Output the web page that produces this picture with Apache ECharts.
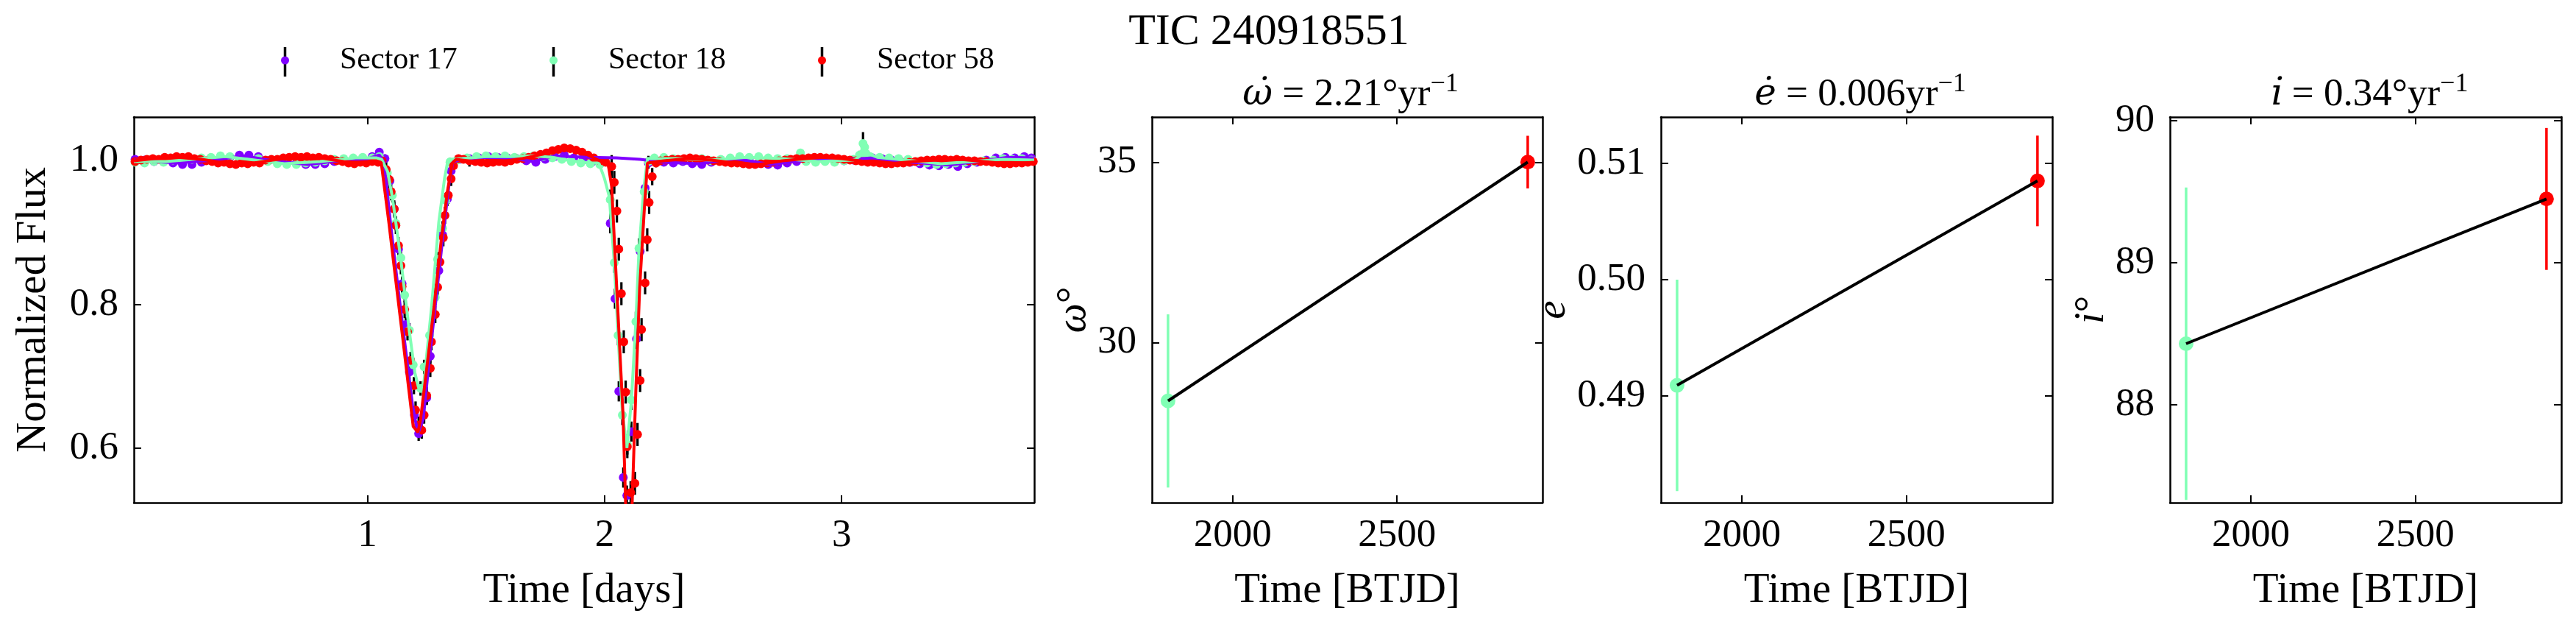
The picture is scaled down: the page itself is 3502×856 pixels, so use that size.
<!DOCTYPE html>
<html lang="en">
<head>
<meta charset="UTF-8">
<title>TIC 240918551</title>
<style>
    html, body { margin: 0; padding: 0; background: #fff; }
    #main { width: 3502px; height: 856px; }
</style>
</head>
<body>
<div id="main"></div>
<script src="https://cdn.jsdelivr.net/npm/echarts@6/dist/echarts.min.js"></script>
<script>
    // folded light curve points: [phase time (days), normalized flux, error]
    const sector17 = [
        [0.02,1.002,0.004],[0.06,1.001,0.004],[0.10,0.999,0.004],[0.14,1.000,0.004],[0.18,0.997,0.004],[0.22,0.995,0.004],
        [0.26,0.995,0.004],[0.30,0.998,0.004],[0.34,1.001,0.004],[0.38,1.003,0.004],[0.42,1.005,0.004],[0.46,1.008,0.004],
        [0.50,1.008,0.004],[0.54,1.006,0.004],[0.58,1.000,0.004],[0.62,0.999,0.004],[0.66,0.998,0.004],[0.70,0.997,0.004],
        [0.74,0.995,0.004],[0.78,0.995,0.004],[0.82,0.996,0.004],[0.86,0.999,0.004],[0.90,1.001,0.004],[0.94,1.002,0.004],
        [0.98,1.003,0.004],[1.02,1.006,0.004],[1.05,1.012,0.004],[1.074,1.003,0.006],
        [1.095,0.972,0.010],[1.113,0.933,0.010],[1.131,0.877,0.010],[1.146,0.829,0.010],[1.162,0.772,0.010],[1.177,0.706,0.010],
        [1.198,0.646,0.010],[1.216,0.620,0.010],[1.250,0.670,0.010],[1.265,0.728,0.010],[1.301,0.847,0.010],[1.317,0.897,0.010],
        [1.337,0.947,0.010],[1.353,0.986,0.008],
        [1.39,1.002,0.004],[1.43,1.003,0.004],[1.47,1.004,0.004],[1.51,1.006,0.004],[1.55,1.005,0.004],[1.59,1.004,0.004],
        [1.63,1.003,0.004],[1.67,1.000,0.004],[1.71,0.998,0.004],[1.75,1.002,0.004],[1.79,1.006,0.004],[1.83,1.008,0.004],
        [1.87,1.004,0.004],[1.91,1.001,0.004],[1.95,0.999,0.004],[1.99,0.998,0.004],
        [2.024,0.913,0.014],[2.044,0.808,0.014],[2.060,0.679,0.014],[2.079,0.559,0.014],[2.094,0.534,0.014],[2.113,0.623,0.014],
        [2.135,0.752,0.014],[2.150,0.874,0.014],[2.171,0.962,0.012],[2.185,0.997,0.008],
        [2.21,1.000,0.004],[2.25,0.998,0.004],[2.29,0.997,0.004],[2.33,0.999,0.004],[2.37,0.996,0.004],[2.41,0.995,0.004],
        [2.45,0.998,0.004],[2.49,1.000,0.004],[2.53,1.002,0.004],[2.57,1.004,0.004],[2.61,1.001,0.004],[2.65,0.997,0.004],
        [2.69,0.995,0.004],[2.73,0.994,0.004],[2.77,0.997,0.004],[2.81,0.999,0.004],[2.85,1.001,0.004],[2.89,1.002,0.004],
        [2.93,1.003,0.004],[2.97,1.002,0.004],[3.01,1.000,0.004],[3.05,1.001,0.004],[3.09,1.003,0.004],[3.13,1.004,0.004],
        [3.17,1.003,0.004],[3.21,1.001,0.004],[3.25,0.999,0.004],[3.29,0.998,0.004],[3.33,0.996,0.004],[3.37,0.994,0.004],
        [3.41,0.993,0.004],[3.45,0.995,0.004],[3.49,0.992,0.004],[3.53,0.996,0.004],[3.57,0.998,0.004],[3.61,1.001,0.004],
        [3.65,1.004,0.004],[3.69,1.005,0.004],[3.73,1.004,0.004],[3.77,1.006,0.004],[3.80,1.004,0.004]
    ];
    const sector18 = [
        [0.02,0.998,0.004],[0.06,0.997,0.004],[0.10,0.999,0.004],[0.14,0.998,0.004],[0.18,1.001,0.004],[0.22,1.003,0.004],
        [0.26,1.002,0.004],[0.30,1.004,0.004],[0.34,1.005,0.004],[0.38,1.007,0.004],[0.42,1.006,0.004],[0.46,1.002,0.004],
        [0.50,1.001,0.004],[0.54,1.003,0.004],[0.58,0.999,0.004],[0.62,0.996,0.004],[0.66,0.995,0.004],[0.70,0.995,0.004],
        [0.74,0.997,0.004],[0.78,0.998,0.004],[0.82,1.000,0.004],[0.86,1.002,0.004],[0.90,1.003,0.004],[0.94,1.004,0.004],
        [0.98,1.005,0.004],[1.02,1.004,0.004],[1.05,1.006,0.004],
        [1.084,0.983,0.010],[1.105,0.952,0.010],[1.120,0.913,0.010],[1.141,0.865,0.010],[1.157,0.813,0.010],[1.177,0.764,0.010],
        [1.193,0.716,0.010],[1.224,0.683,0.010],[1.239,0.713,0.010],[1.262,0.757,0.010],[1.286,0.810,0.010],[1.296,0.863,0.010],
        [1.317,0.906,0.010],[1.330,0.945,0.010],[1.348,0.998,0.006],
        [1.38,1.001,0.004],[1.42,1.004,0.004],[1.46,1.006,0.004],[1.50,1.007,0.004],[1.54,1.006,0.004],[1.58,1.007,0.004],
        [1.62,1.005,0.004],[1.66,1.006,0.004],[1.70,1.007,0.004],[1.74,1.006,0.004],[1.78,1.004,0.004],[1.82,1.002,0.004],
        [1.86,0.999,0.004],[1.90,0.997,0.004],[1.94,0.996,0.004],[1.98,0.995,0.004],
        [2.024,0.946,0.014],[2.041,0.858,0.014],[2.057,0.757,0.014],[2.075,0.646,0.014],[2.096,0.605,0.014],[2.113,0.667,0.014],
        [2.132,0.776,0.014],[2.145,0.878,0.014],[2.167,0.957,0.012],[2.185,0.999,0.008],
        [2.21,1.004,0.004],[2.25,1.005,0.004],[2.29,1.003,0.004],[2.33,1.001,0.004],[2.37,1.002,0.004],[2.41,1.003,0.004],
        [2.45,1.000,0.004],[2.49,1.002,0.004],[2.53,1.004,0.004],[2.57,1.006,0.004],[2.61,1.005,0.004],[2.65,1.006,0.004],
        [2.69,1.004,0.004],[2.73,1.003,0.004],[2.77,1.003,0.004],[2.826,1.011,0.004],[2.85,0.999,0.004],[2.89,0.998,0.004],
        [2.93,0.999,0.004],[2.97,0.998,0.004],[3.01,1.000,0.004],[3.05,1.002,0.004],[3.075,1.008,0.006],[3.090,1.024,0.016],
        [3.097,1.019,0.006],[3.103,1.010,0.005],[3.12,1.006,0.004],[3.16,1.005,0.004],[3.20,1.004,0.004],[3.24,1.003,0.004],
        [3.28,1.002,0.004],[3.32,0.999,0.004],[3.36,0.997,0.004],[3.40,0.995,0.004],[3.44,0.996,0.004],[3.48,0.997,0.004],
        [3.52,0.998,0.004],[3.56,0.999,0.004],[3.60,1.000,0.004],[3.64,1.001,0.004],[3.68,1.003,0.004],[3.72,1.002,0.004],
        [3.76,1.003,0.004],[3.80,1.001,0.004]
    ];
    const sector58 = [
        [0.020,0.999,0.004],[0.045,1.001,0.004],[0.070,1.002,0.004],[0.095,1.003,0.004],[0.120,1.002,0.004],[0.145,1.005,0.004],
        [0.170,1.004,0.004],[0.195,1.006,0.004],[0.220,1.005,0.004],[0.245,1.006,0.004],[0.270,1.003,0.004],[0.295,1.002,0.004],
        [0.320,1.000,0.004],[0.345,0.999,0.004],[0.370,0.997,0.004],[0.395,0.998,0.004],[0.420,0.996,0.004],[0.445,0.995,0.004],
        [0.470,0.997,0.004],[0.495,0.996,0.004],[0.520,0.998,0.004],[0.545,0.997,0.004],[0.570,1.001,0.004],[0.595,1.002,0.004],
        [0.620,1.002,0.004],[0.645,1.004,0.004],[0.670,1.005,0.004],[0.695,1.006,0.004],[0.720,1.005,0.004],[0.745,1.006,0.004],
        [0.770,1.004,0.004],[0.795,1.005,0.004],[0.820,1.003,0.004],[0.845,1.002,0.004],[0.870,1.000,0.004],[0.895,0.999,0.004],
        [0.920,0.997,0.004],[0.945,0.996,0.004],[0.970,0.998,0.004],[0.995,0.997,0.004],[1.020,0.999,0.004],[1.045,0.998,0.004],
        [1.062,1.000,0.005],
        [1.079,0.988,0.012],[1.092,0.974,0.012],[1.100,0.957,0.012],[1.113,0.933,0.012],[1.120,0.910,0.012],[1.131,0.882,0.012],
        [1.141,0.854,0.012],[1.146,0.825,0.012],[1.157,0.793,0.012],[1.169,0.762,0.012],[1.182,0.722,0.012],[1.196,0.687,0.012],
        [1.203,0.653,0.012],[1.216,0.632,0.012],[1.229,0.625,0.012],[1.239,0.646,0.012],[1.250,0.673,0.012],[1.265,0.711,0.012],
        [1.270,0.748,0.012],[1.286,0.786,0.012],[1.296,0.824,0.012],[1.306,0.859,0.012],[1.320,0.893,0.012],[1.327,0.924,0.012],
        [1.341,0.952,0.012],[1.353,0.975,0.010],[1.363,0.993,0.008],[1.384,1.003,0.005],
        [1.405,1.002,0.004],[1.430,1.000,0.008],[1.455,0.999,0.004],[1.480,0.998,0.004],[1.505,0.997,0.004],[1.530,0.998,0.004],
        [1.555,0.999,0.004],[1.580,0.998,0.004],[1.605,1.000,0.004],[1.630,1.002,0.004],[1.655,1.003,0.004],[1.680,1.005,0.004],
        [1.705,1.007,0.004],[1.730,1.009,0.004],[1.755,1.011,0.004],[1.780,1.014,0.004],[1.805,1.016,0.004],[1.830,1.018,0.004],
        [1.855,1.017,0.004],[1.880,1.015,0.004],[1.905,1.012,0.004],[1.930,1.008,0.004],[1.955,1.004,0.004],[1.980,1.000,0.004],
        [2.005,0.998,0.005],
        [2.030,0.992,0.016],[2.041,0.970,0.016],[2.052,0.930,0.016],[2.060,0.877,0.016],[2.071,0.815,0.016],[2.081,0.748,0.016],
        [2.089,0.678,0.016],[2.096,0.602,0.016],[2.110,0.538,0.016],[2.128,0.551,0.016],[2.139,0.619,0.016],[2.150,0.694,0.016],
        [2.156,0.765,0.016],[2.171,0.830,0.016],[2.180,0.890,0.016],[2.188,0.942,0.016],[2.201,0.978,0.012],[2.217,0.997,0.006],
        [2.235,1.000,0.004],[2.260,1.001,0.004],[2.285,1.002,0.004],[2.310,1.002,0.004],[2.335,1.003,0.004],[2.360,1.004,0.004],
        [2.385,1.003,0.004],[2.410,1.002,0.004],[2.435,1.001,0.004],[2.460,1.000,0.004],[2.485,0.999,0.004],[2.510,0.998,0.004],
        [2.535,0.997,0.004],[2.560,0.997,0.004],[2.585,0.996,0.004],[2.610,0.995,0.004],[2.635,0.995,0.004],[2.660,0.996,0.004],
        [2.685,0.997,0.004],[2.710,0.998,0.004],[2.735,1.000,0.004],[2.760,1.001,0.004],[2.785,1.002,0.004],[2.810,1.003,0.004],
        [2.835,1.003,0.004],[2.860,1.004,0.004],[2.885,1.005,0.004],[2.910,1.005,0.004],[2.935,1.004,0.004],[2.960,1.004,0.004],
        [2.985,1.003,0.004],[3.010,1.002,0.004],[3.035,1.001,0.004],[3.060,1.000,0.004],[3.085,0.999,0.004],[3.110,0.998,0.004],
        [3.135,0.998,0.004],[3.160,0.997,0.004],[3.185,0.996,0.004],[3.210,0.996,0.004],[3.235,0.997,0.004],[3.260,0.997,0.004],
        [3.285,0.998,0.004],[3.310,0.999,0.004],[3.335,1.000,0.004],[3.360,1.001,0.004],[3.385,1.001,0.004],[3.410,1.002,0.004],
        [3.435,1.002,0.004],[3.460,1.001,0.004],[3.485,1.002,0.004],[3.510,1.001,0.004],[3.535,1.000,0.004],[3.560,1.000,0.004],
        [3.585,0.999,0.004],[3.610,0.999,0.004],[3.635,0.998,0.004],[3.660,0.997,0.004],[3.685,0.996,0.004],[3.710,0.996,0.004],
        [3.735,0.997,0.004],[3.760,0.997,0.004],[3.785,0.998,0.004],[3.808,0.999,0.004]
    ];

    // model curves: [phase time (days), flux]
    const model17 = [
        [0.015,1.001],[0.20,0.997],[0.35,1.001],[0.48,1.007],[0.60,1.000],[0.75,0.995],[0.90,1.001],[1.00,1.003],[1.050,1.008],
        [1.070,0.998],[1.100,0.905],[1.130,0.820],[1.160,0.740],[1.190,0.660],[1.213,0.620],[1.235,0.640],[1.260,0.720],
        [1.290,0.810],[1.320,0.900],[1.345,0.970],[1.360,0.998],[1.40,1.003],[1.50,1.005],[1.60,1.004],[1.70,0.999],[1.79,1.007],
        [1.85,1.006],[1.93,1.005],[2.05,1.004],[2.15,1.002],[2.25,0.998],[2.40,0.996],[2.55,1.003],[2.70,0.995],[2.85,1.001],
        [3.00,1.001],[3.13,1.004],[3.30,0.998],[3.45,0.994],[3.60,1.000],[3.70,1.005],[3.812,1.004]
    ];
    const model18 = [
        [0.015,0.999],[0.15,0.999],[0.30,1.003],[0.40,1.006],[0.50,1.002],[0.65,0.996],[0.80,0.999],[0.95,1.004],[1.040,1.004],
        [1.060,1.002],[1.085,0.985],[1.105,0.950],[1.141,0.862],[1.177,0.762],[1.200,0.705],[1.215,0.685],[1.228,0.684],
        [1.239,0.694],[1.270,0.795],[1.301,0.915],[1.325,0.975],[1.340,1.002],[1.40,1.003],[1.50,1.006],[1.60,1.006],[1.70,1.007],
        [1.78,1.005],[1.86,1.000],[1.94,0.997],[1.976,0.997],[2.000,0.975],[2.020,0.950],[2.041,0.858],[2.057,0.757],[2.075,0.650],
        [2.094,0.600],[2.113,0.665],[2.132,0.776],[2.145,0.875],[2.165,0.960],[2.181,1.003],[2.30,1.003],[2.45,1.001],[2.60,1.005],
        [2.75,1.003],[2.90,0.999],[3.05,1.001],[3.075,1.006],[3.090,1.020],[3.105,1.011],[3.15,1.005],[3.30,1.000],[3.42,0.996],
        [3.55,0.999],[3.68,1.002],[3.812,1.001]
    ];
    const model58 = [
        [0.015,1.000],[0.10,1.003],[0.20,1.005],[0.30,1.002],[0.40,0.997],[0.50,0.996],[0.60,1.001],[0.70,1.005],[0.80,1.004],
        [0.90,0.999],[1.00,0.997],[1.058,0.998],[1.090,0.915],[1.120,0.832],[1.150,0.750],[1.175,0.680],[1.193,0.630],
        [1.213,0.622],[1.224,0.640],[1.250,0.711],[1.281,0.797],[1.312,0.892],[1.337,0.957],[1.358,0.997],[1.374,1.002],
        [1.45,0.999],[1.55,0.998],[1.65,1.003],[1.75,1.010],[1.83,1.017],[1.88,1.015],[1.93,1.008],[1.98,1.000],[2.016,0.994],
        [2.030,0.964],[2.046,0.858],[2.062,0.752],[2.078,0.646],[2.089,0.520],[2.116,0.520],[2.132,0.681],[2.148,0.823],
        [2.167,0.929],[2.181,0.997],[2.25,1.000],[2.35,1.003],[2.45,1.001],[2.55,0.997],[2.65,0.995],[2.75,1.000],[2.85,1.003],
        [2.92,1.005],[3.00,1.003],[3.10,0.999],[3.20,0.996],[3.30,0.999],[3.40,1.001],[3.50,1.002],[3.60,0.999],[3.70,0.996],
        [3.812,0.998]
    ];

    // orbital parameters per epoch
    const fitTime = [1803, 2898];
    const omegaVal = [28.38, 35.0];
    const omegaErr = [2.4, 0.73];
    const eccVal = [0.4909, 0.5085];
    const eccErr = [0.0091, 0.0039];
    const incVal = [88.43, 89.45];
    const incErr = [1.1, 0.5];

    // tick labels
    const phaseTicks = [1, 2, 3];
    const fluxTicks = [0.6, 0.8, 1.0];
    const btjdTicks = [2000, 2500];
    const omegaTicks = [30, 35];
    const eccTicks = [0.49, 0.50, 0.51];
    const incTicks = [88, 89, 90];

    const sectorNames = ['Sector 17', 'Sector 18', 'Sector 58'];
    const c17 = '#8000ff', c18 = '#80ffb4', c58 = '#ff0000';
    const fitColors = [c18, c58];
    const FONT = "'Liberation Serif', 'DejaVu Serif', serif";
    const MATH = "'DejaVu Serif', serif";

    const myChart = echarts.init(document.getElementById('main'));

    // grids: left light curve + three parameter panels
    const grids = [
        {left: 182, top: 159, width: 1224, height: 524},
        {left: 1566, top: 159, width: 531, height: 524},
        {left: 2258, top: 159, width: 532, height: 524},
        {left: 2950, top: 159, width: 532, height: 524}
    ];

    const lineStyle = {color: '#000', width: 2.5};
    const tickStyle = {color: '#000', width: 2};

    function xAxes(g, min, max, ticks, fmt, name) {
        const base = {
            gridIndex: g, type: 'value', min: min, max: max,
            splitLine: {show: false},
            axisLine: {show: true, onZero: false, lineStyle: lineStyle}
        };
        return [
            Object.assign({}, base, {
                position: 'bottom',
                axisTick: {show: true, inside: true, length: 10, customValues: ticks, lineStyle: tickStyle},
                axisLabel: {customValues: ticks, formatter: fmt, margin: 19, fontSize: 53, color: '#000', fontFamily: FONT},
                name: name, nameLocation: 'middle', nameGap: 92,
                nameTextStyle: {fontSize: 57, color: '#000', fontFamily: FONT}
            }),
            Object.assign({}, base, {
                position: 'top',
                axisTick: {show: true, inside: true, length: 10, customValues: ticks, lineStyle: tickStyle},
                axisLabel: {show: false}
            })
        ];
    }

    function yAxes(g, min, max, ticks, fmt, name, gap) {
        const base = {
            gridIndex: g, type: 'value', min: min, max: max,
            splitLine: {show: false},
            axisLine: {show: true, onZero: false, lineStyle: lineStyle}
        };
        return [
            Object.assign({}, base, {
                position: 'left',
                axisTick: {show: true, inside: true, length: 10, customValues: ticks, lineStyle: tickStyle},
                axisLabel: {customValues: ticks, formatter: fmt, margin: 21, fontSize: 53, color: '#000', fontFamily: FONT},
                name: name, nameLocation: 'middle', nameGap: gap, nameRotate: 90,
                nameTextStyle: {
                    fontSize: 57, color: '#000', fontFamily: FONT,
                    rich: {i: {fontSize: 57, fontStyle: 'italic', fontFamily: FONT, color: '#000'}}
                }
            }),
            Object.assign({}, base, {
                position: 'right',
                axisTick: {show: true, inside: true, length: 10, customValues: ticks, lineStyle: tickStyle},
                axisLabel: {show: false}
            })
        ];
    }

    const xAxis = [].concat(
        xAxes(0, 0.015, 3.812, phaseTicks, v => String(v), 'Time [days]'),
        xAxes(1, 1754, 2943, btjdTicks, v => String(v), 'Time [BTJD]'),
        xAxes(2, 1754, 2943, btjdTicks, v => String(v), 'Time [BTJD]'),
        xAxes(3, 1754, 2943, btjdTicks, v => String(v), 'Time [BTJD]')
    );
    const yAxis = [].concat(
        yAxes(0, 0.524, 1.061, fluxTicks, v => v.toFixed(1), 'Normalized Flux', 107),
        yAxes(1, 25.56, 36.25, omegaTicks, v => String(v), '{i|ω}°', 64),
        yAxes(2, 0.4808, 0.5140, eccTicks, v => v.toFixed(2), '{i|e}', 104),
        yAxes(3, 87.31, 90.027, incTicks, v => String(v), '{i|i}°', 70)
    );

    // vertical error bars drawn through the axes' scales
    function errBars(colorOf, width) {
        return function (params, api) {
            const x = api.value(0), y = api.value(1), e = api.value(2);
            const p1 = api.coord([x, y - e]);
            const p2 = api.coord([x, y + e]);
            return {
                type: 'line',
                shape: {x1: p1[0], y1: p1[1], x2: p2[0], y2: p2[1]},
                style: {stroke: colorOf(params.dataIndex), lineWidth: width}
            };
        };
    }

    const series = [];
    const lcSets = [[sector17, model17, c17], [sector18, model18, c18], [sector58, model58, c58]];
    lcSets.forEach(([pts, model, color], i) => {
        series.push({
            type: 'custom', xAxisIndex: 0, yAxisIndex: 0, silent: true, clip: true,
            renderItem: errBars(() => '#000', 3.2),
            encode: {x: 0, y: 1},
            data: pts
        });
        series.push({
            name: sectorNames[i], type: 'scatter', xAxisIndex: 0, yAxisIndex: 0,
            symbol: 'circle', symbolSize: 12, silent: true,
            itemStyle: {color: color, opacity: 1},
            data: pts.map(d => [d[0], d[1]])
        });
        series.push({
            type: 'line', xAxisIndex: 0, yAxisIndex: 0, showSymbol: false, silent: true, clip: true,
            lineStyle: {color: color, width: 4},
            data: model
        });
    });

    const fitSets = [[omegaVal, omegaErr], [eccVal, eccErr], [incVal, incErr]];
    fitSets.forEach(([vals, errs], k) => {
        const ax = 2 * (k + 1);
        const pts = fitTime.map((t, j) => [t, vals[j], errs[j]]);
        series.push({
            type: 'line', xAxisIndex: ax, yAxisIndex: ax, showSymbol: false, silent: true,
            lineStyle: {color: '#000', width: 4},
            data: pts.map(d => [d[0], d[1]])
        });
        series.push({
            type: 'custom', xAxisIndex: ax, yAxisIndex: ax, silent: true,
            renderItem: errBars(j => fitColors[j], 3.5),
            encode: {x: 0, y: 1},
            data: pts
        });
        series.push({
            type: 'scatter', xAxisIndex: ax, yAxisIndex: ax, symbolSize: 20, silent: true,
            itemStyle: {color: p => fitColors[p.dataIndex], opacity: 1},
            data: pts.map(d => [d[0], d[1]])
        });
    });

    const subTitle = (text, x) => ({
        text: text, left: x, top: 92, textAlign: 'center',
        textStyle: {
            fontFamily: FONT, fontSize: 53, fontWeight: 'normal', color: '#000', lineHeight: 64,
            rich: {
                v: {fontFamily: MATH, fontSize: 50, fontStyle: 'italic', color: '#000', lineHeight: 64},
                s: {fontFamily: FONT, fontSize: 36, color: '#000', lineHeight: 32, verticalAlign: 'top'}
            }
        }
    });

    const legendX = [382, 747, 1112];

    const option = {
        animation: false,
        backgroundColor: '#fff',
        title: [
            {
                text: 'TIC 240918551', left: 1720, top: 9, textAlign: 'center',
                textStyle: {fontFamily: FONT, fontSize: 60, fontWeight: 'normal', color: '#000'}
            },
            subTitle('{v|ω\u0307} = 2.21°yr{s|−1}', 1831),
            subTitle('{v|e\u0307} = 0.006yr{s|−1}', 2524),
            subTitle('{v|i\u0307} = 0.34°yr{s|−1}', 3216)
        ],
        legend: sectorNames.map((n, i) => ({
            data: [n], left: legendX[i], top: 61, padding: 0, z: 5,
            icon: 'circle', itemWidth: 11, itemHeight: 11, selectedMode: false,
            textStyle: {fontFamily: FONT, fontSize: 42, color: '#000', padding: [0, 0, 0, 64]}
        })),
        graphic: legendX.map(x => ({
            type: 'rect', z: 1, silent: true,
            shape: {x: x + 5.5 - 1.75, y: 64, width: 3.5, height: 40},
            style: {fill: '#000'}
        })),
        grid: grids,
        xAxis: xAxis,
        yAxis: yAxis,
        series: series
    };

    myChart.setOption(option);
</script>
</body>
</html>
